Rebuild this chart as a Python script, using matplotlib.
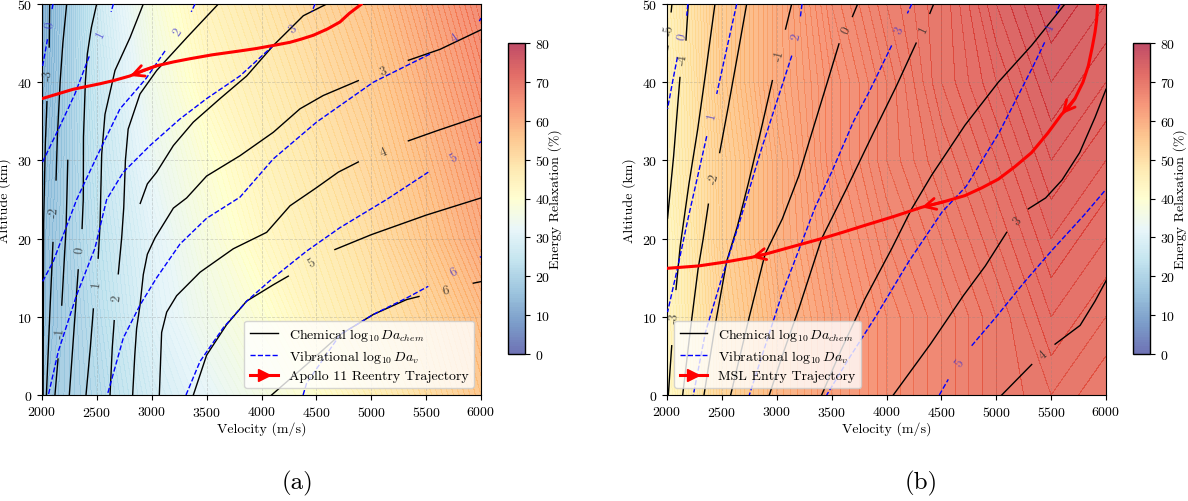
import numpy as np
import matplotlib
matplotlib.use("Agg")
import matplotlib.pyplot as plt
from matplotlib.lines import Line2D

plt.rcParams['font.family'] = ['cmr10', 'DejaVu Serif']
plt.rcParams['mathtext.fontset'] = 'cm'
plt.rcParams['axes.formatter.use_mathtext'] = True
plt.rcParams['axes.unicode_minus'] = False

# ---------------- data ----------------
vel_grid = [2000, 2500, 3000, 3500, 4000, 4500, 5000, 5500, 6000]
alt_grid = [0, 10, 20, 30, 40, 50]

relax_a = [
    [17, 22, 28, 32, 36, 40, 45, 50, 55],
    [16, 23, 30, 35, 39, 44, 48, 52, 57],
    [16, 24, 31, 37, 42, 46, 50, 55, 60],
    [15, 25, 33, 39, 44, 48, 52, 57, 62],
    [14, 26, 35, 42, 46, 50, 54, 59, 64],
    [13, 27, 37, 44, 48, 52, 56, 61, 66],
]
relax_b = [
    [42, 52, 58, 62, 65, 67, 69, 70, 69],
    [43, 52, 58, 62, 65, 67, 69, 71, 70],
    [43, 53, 59, 63, 66, 68, 70, 72, 71],
    [44, 53, 59, 64, 67, 69, 71, 73, 72],
    [44, 54, 60, 64, 67, 70, 72, 74, 73],
    [45, 54, 60, 65, 68, 70, 73, 75, 74],
]

# chemical log10 Da contours, panel (a): (label, [pieces of (velocity, altitude)])
chem_a = [
    ("-3", [[(2010, 0), (2012, 10), (2015, 22), (2030, 32), (2045, 37.5)], [(2066, 44.5), (2070, 50)]]),
    ("-2", [[(2040, 0), (2070, 10), (2100, 19.5)], [(2128, 27.5), (2140, 33), (2165, 40), (2190, 45), (2225, 50)]]),
    ("-1", [[(2118, 0), (2146, 4.6)], [(2180, 11.5), (2219, 21.3), (2228, 26), (2235, 30)]]),
    ("0", [[(2249, 0), (2300, 10), (2330, 16)], [(2365, 21.3), (2376, 25), (2378, 33), (2395, 40), (2413, 43.6), (2450, 47), (2498, 50)]]),
    ("1", [[(2401, 0), (2440, 6), (2468, 11)], [(2512, 17.5), (2529, 21.9), (2544, 30.8), (2574, 35.9), (2665, 41.5), (2802, 45.7), (2923, 50)]]),
    ("2", [[(2620, 0), (2640, 6), (2658, 9.5)], [(2695, 15.5), (2726, 20.1), (2745, 24), (2760, 30), (2785, 34), (2893, 38.5), (3045, 41.5), (3319, 45.7), (3607, 50)]]),
    ("", [[(2895, 24.5), (2960, 27), (3045, 28.5), (3197, 31.9), (3379, 34.9), (3622, 37.9), (3865, 40.8), (4108, 44.7), (4381, 48.5), (4594, 50)]]),
    ("3", [[(2826, 0), (2845, 5), (2862, 8.5), (2893, 11.5), (2923, 15.4), (2960, 18), (3030, 20.1), (3197, 23.9), (3318, 25.2), (3500, 28), (3804, 30.6), (4108, 33.6), (4351, 36.6), (4563, 38.3), (4882, 40.2)],
           [(5338, 42.8), (5626, 44.2), (6000, 46.7)]]),
    ("4", [[(3069, 0), (3090, 8), (3136, 10.6), (3227, 12.7), (3440, 15.7), (3743, 18.7), (4047, 20.8), (4260, 24.2), (4500, 26.5), (4700, 28.5), (4882, 29.8)],
           [(5338, 32.5), (5600, 33.8), (6000, 35.7)]]),
    ("5", [[(3379, 0), (3500, 5.1), (3682, 9.0), (3864, 12.0), (4108, 14.1), (4244, 15.2)], [(4669, 18.6), (5000, 20.5), (5500, 23), (6000, 25.2)]]),
    ("6", [[(4092, 0), (4411, 3.9), (4715, 7.7), (5019, 10.3), (5322, 12.2), (5435, 12.6)], [(5930, 14.3), (6000, 14.5)]]),
]

# vibrational log10 Da contours, panel (a)
vib_a = [
    ("0", [[(2100, 50), (2090, 49.2)], [(2050, 45.5), (2005, 42)]]),
    ("1", [[(2650, 50), (2630, 49)], [(2430, 43.3), (2300, 38.5), (2164, 34.4), (2005, 29.8)]]),
    ("2", [[(3394, 50), (3360, 49)], [(3121, 44.0), (2950, 40.5), (2711, 36.6), (2500, 30.5), (2316, 25), (2200, 20.7), (2103, 17.1), (2005, 14.5)]]),
    ("3", [[(4487, 50), (4460, 49)], [(4108, 44.7), (3804, 40.8), (3500, 37.9), (3257, 35.3), (2984, 31.9), (2741, 28.5), (2589, 25), (2483, 18.8), (2316, 12.8), (2149, 5.6), (2058, 0)]]),
    ("4", [[(6000, 48.2), (5985, 47.8)], [(5535, 43.6), (5019, 40), (4502, 34.9), (4108, 30.2), (3804, 25.3), (3500, 22.6), (3257, 19.3), (3045, 15), (2893, 11.5), (2741, 7.3), (2595, 0)]]),
    ("5", [[(3312, 0), (3440, 4.3), (3652, 8.6), (3865, 12), (4108, 15), (4411, 18.4), (4715, 21.4), (5140, 25), (5520, 28.5)], [(5980, 32.2), (6000, 32.4)]]),
    ("6", [[(4379, 0), (4411, 1.5), (4715, 7.7), (5019, 10.3), (5322, 12.4), (5520, 13.9)], [(5990, 17.6), (6000, 17.7)]]),
]

# panel (b)
chem_b = [
    ("-5", [[(2045, 50), (2038, 49)], [(2008, 44.6), (2003, 44)]]),
    ("-4", [[(2194, 50), (2173, 45.4)], [(2118, 40.6), (2060, 30.5), (2005, 22.6)]]),
    ("-3", [[(2437, 50), (2350, 41), (2280, 34), (2200, 27), (2120, 19), (2082, 13.5)], [(2043, 6.3), (2012, 0)]]),
    ("-2", [[(2726, 50), (2650, 44), (2560, 37), (2480, 31)], [(2377, 24.4), (2330, 20), (2283, 16.1), (2210, 8), (2143, 0)]]),
    ("-1", [[(3136, 50), (3080, 46.8)], [(2960, 40.2), (2850, 33.5), (2740, 27), (2640, 21.5), (2544, 17.1), (2440, 9), (2337, 0)]]),
    ("0", [[(3737, 50), (3690, 48.4)], [(3567, 44.9), (3450, 39.5), (3330, 34), (3200, 28), (3050, 22.5), (2893, 18), (2750, 10), (2580, 0)]]),
    ("1", [[(4430, 50), (4395, 48.8)], [(4270, 45), (4090, 39.5), (3880, 33.5), (3640, 26.5), (3409, 20), (3200, 11), (3050, 5), (2932, 0)]]),
    ("", [[(5626, 50), (5322, 44.7), (5019, 40), (4715, 34.5), (4411, 28.1), (4229, 23.8), (4047, 18.7), (3804, 12.3), (3591, 5.9), (3409, 0)]]),
    ("3", [[(6000, 39.1), (5900, 35.5), (5760, 31), (5600, 27.5), (5450, 25.2), (5292, 23.8)], [(5095, 20.8), (4900, 16.5), (4700, 12.7), (4400, 6.5), (4062, 0)]]),
    ("4", [[(6000, 14.6), (5900, 12), (5764, 8.9), (5536, 6.5)], [(5323, 3.9), (5050, 0)]]),
]

vib_b = [
    ("0", [[(2190, 50), (2180, 48.5)], [(2095, 43.2), (2050, 40), (2005, 36.6)]]),
    ("1", [[(2635, 50), (2540, 44), (2453, 38.5)], [(2362, 33.1), (2280, 28), (2194, 22.7), (2100, 16.5), (2005, 10.6)]]),
    ("2", [[(3230, 50), (3215, 48.3)], [(3137, 43.4), (3000, 37.5), (2850, 31), (2665, 22.3), (2500, 15), (2350, 8), (2240, 0)]]),
    ("3", [[(4230, 50), (4190, 48.8)], [(4047, 44.7), (3850, 39), (3700, 35), (3500, 28.5), (3350, 24), (3200, 18.5), (3050, 13), (2900, 6.5), (2750, 0)]]),
    ("4", [[(5580, 50), (5545, 48.8)], [(5441, 45.1), (5338, 42.1), (5028, 33.6), (4727, 26.7), (4506, 23.4), (4200, 17), (3900, 10), (3650, 4.5), (3455, 0)]]),
    ("5", [[(4481, 0), (4563, 2)], [(4776, 6.3), (5000, 10), (5260, 14.5), (5520, 18.7), (5800, 23), (6000, 26.3)]]),
]

traj_a_vel = [4912, 4800, 4715, 4600, 4472, 4360, 4259, 4108, 3950, 3804, 3550, 3348, 3200, 3045, 2920, 2802, 2650, 2528, 2285, 2000]
traj_a_alt = [50, 48.8, 47.7, 46.8, 46.0, 45.5, 45.1, 44.7, 44.3, 44.0, 43.5, 43.0, 42.6, 42.1, 41.5, 40.8, 40.2, 39.8, 39.1, 37.9]
traj_b_vel = [5924, 5915, 5900, 5875, 5839, 5790, 5717, 5660, 5596, 5470, 5322, 5170, 5019, 4870, 4715, 4520, 4320, 4060, 3804, 3600, 3409, 3150, 2893, 2771, 2528, 2285, 2000]
traj_b_alt = [50, 48, 46.4, 44.5, 42.1, 40, 37.9, 36.8, 35.9, 33.5, 31.0, 29.2, 27.6, 26.5, 25.5, 24.7, 24.0, 22.8, 21.7, 20.8, 20.0, 19.0, 18.0, 17.6, 17.0, 16.5, 16.2]
arrows_a = [(13, 15)]
arrows_b = [(6, 8), (15, 16), (22, 23)]

vel_ticks = [2000, 2500, 3000, 3500, 4000, 4500, 5000, 5500, 6000]
alt_ticks = [0, 10, 20, 30, 40, 50]
cbar_ticks = [0, 10, 20, 30, 40, 50, 60, 70, 80]

# ---------------- figure ----------------
W, H = 1188, 502
fig = plt.figure(figsize=(W / 100, H / 100), dpi=100)


def fr(x0, y0, x1, y1):
    return [x0 / W, 1 - y1 / H, (x1 - x0) / W, (y1 - y0) / H]


ax_a = fig.add_axes(fr(42, 5, 481, 396))
cax_a = fig.add_axes(fr(508, 44, 525, 355))
ax_b = fig.add_axes(fr(667, 5, 1106, 396))
cax_b = fig.add_axes(fr(1133, 44, 1150, 355))


def draw_lines(ax, specs, color, ls, lab_color, lab_alpha):
    for lab, pieces in specs:
        for p in pieces:
            xs = [q[0] for q in p]
            ys = [q[1] for q in p]
            ax.plot(xs, ys, color=color, ls=ls, lw=1.0, zorder=3)
        if not lab:
            continue
        for i in range(len(pieces) - 1):
            p0 = pieces[i][-1]
            p1 = pieces[i + 1][0]
            d0 = ax.transData.transform(p0)
            d1 = ax.transData.transform(p1)
            ang = np.degrees(np.arctan2(d1[1] - d0[1], d1[0] - d0[0]))
            if ang > 90:
                ang -= 180
            if ang < -90:
                ang += 180
            mx = (p0[0] + p1[0]) / 2
            my = (p0[1] + p1[1]) / 2
            ax.text(mx, my, lab, rotation=ang, rotation_mode='anchor',
                    ha='center', va='center', fontsize=9.5, color=lab_color,
                    alpha=lab_alpha, zorder=4)


def panel(ax, cax, relax, chem, vib, tv, ta, arrows, traj_label, legend_loc):
    ax.set_xlim(2000, 6000)
    ax.set_ylim(0, 50)
    cf = ax.contourf(vel_grid, alt_grid, relax, levels=np.arange(0, 80.5, 0.5),
                     cmap='RdYlBu_r', vmin=0, vmax=80, alpha=0.7, zorder=1,
                     antialiased=False)
    ax.contour(vel_grid, alt_grid, relax, levels=np.arange(0, 81, 1),
               colors='white', linewidths=0.4, alpha=0.1, zorder=1.5)
    ax.set_xticks(vel_ticks)
    ax.set_yticks(alt_ticks)
    ax.grid(True, ls='--', lw=0.6, color='gray', alpha=0.3, zorder=2)
    ax.tick_params(labelsize=10)
    ax.set_xlabel('Velocity (m/s)', fontsize=10, labelpad=2)
    ax.set_ylabel('Altitude (km)', fontsize=10, labelpad=4)
    draw_lines(ax, chem, 'black', '-', '#222222', 0.75)
    draw_lines(ax, vib, 'blue', '--', '#3a2fd0', 0.7)
    ax.plot(tv, ta, color='red', lw=2.2, zorder=5, solid_capstyle='round')
    for i0, i1 in arrows:
        ax.annotate('', xy=(tv[i1], ta[i1]), xytext=(tv[i0], ta[i0]),
                    arrowprops=dict(arrowstyle='->', color='red', lw=2.0,
                                    mutation_scale=20, shrinkA=0,
                                    shrinkB=0), zorder=6)
    handles = [
        Line2D([], [], color='black', lw=1.0),
        Line2D([], [], color='blue', lw=1.0, ls='--'),
        Line2D([], [], color='red', lw=2.2, marker='>', markersize=8),
    ]
    labels = [r'Chemical $\log_{10} Da_{chem}$', r'Vibrational $\log_{10} Da_v$', traj_label]
    leg = ax.legend(handles, labels, loc=legend_loc, fontsize=10, framealpha=0.8,
                    numpoints=1, labelspacing=0.35)
    leg.set_zorder(10)
    cb = fig.colorbar(cf, cax=cax, ticks=cbar_ticks)
    cb.ax.tick_params(labelsize=10)
    cb.set_label('Energy Relaxation (%)', fontsize=10, labelpad=-1)
    cb.outline.set_linewidth(1.0)


panel(ax_a, cax_a, relax_a, chem_a, vib_a, traj_a_vel, traj_a_alt, arrows_a,
      'Apollo 11 Reentry Trajectory', 'lower right')
panel(ax_b, cax_b, relax_b, chem_b, vib_b, traj_b_vel, traj_b_alt, arrows_b,
      'MSL Entry Trajectory', 'lower left')

fig.text(298 / W, 1 - 483 / H, '(a)', ha='center', va='center', fontsize=18)
fig.text(921 / W, 1 - 483 / H, '(b)', ha='center', va='center', fontsize=18)

fig.savefig('out.png', dpi=100)
